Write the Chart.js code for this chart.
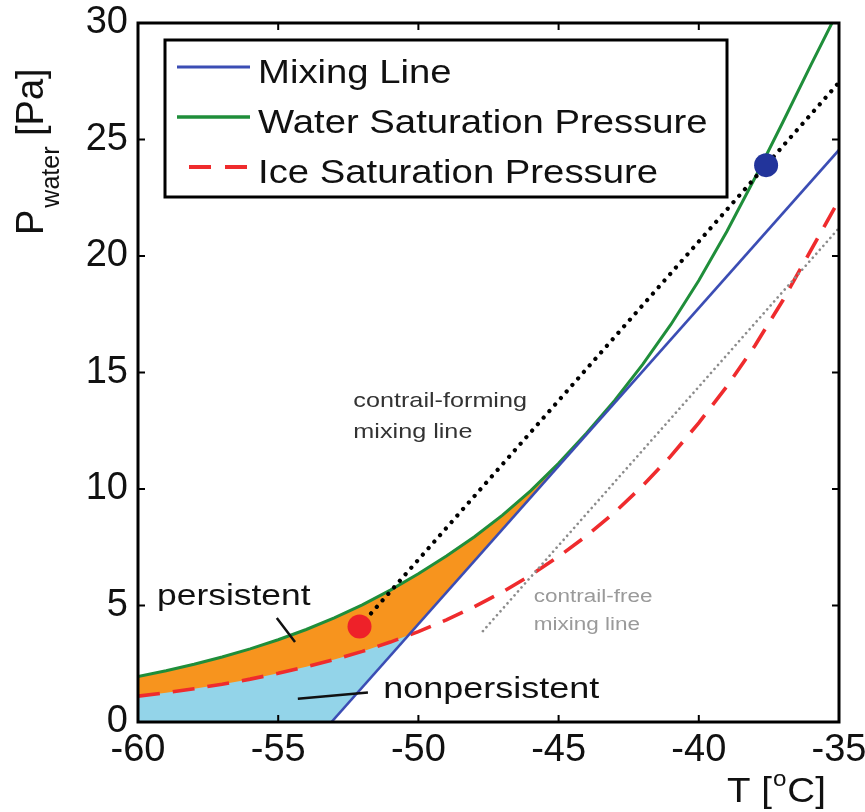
<!DOCTYPE html>
<html>
<head>
<meta charset="utf-8">
<script src="https://cdn.jsdelivr.net/npm/chart.js@4/dist/chart.umd.min.js"></script>
<style>
  body { margin: 0; background: #fff; }
  #wrap { width: 865px; height: 812px; }
</style>
</head>
<body>
<div id="wrap"><canvas id="chart" width="865" height="812"></canvas></div>
<script>
// temperatures (deg C) and saturation pressures (Pa)
const tempC = [-60, -59, -58, -57, -56, -55, -54, -53, -52, -51, -50, -49, -48,
               -47, -46, -45, -44, -43, -42, -41, -40, -39, -38, -37, -36, -35];
const waterP = [1.95, 2.2, 2.48, 2.79, 3.14, 3.53, 3.97, 4.47, 5.03, 5.66, 6.36, 7.12, 7.95,
                8.88, 9.92, 11.1, 12.4, 13.8, 15.35, 17.05, 18.95, 21.05, 23.35, 25.75, 28.2, 30.6];
const iceP = [1.11, 1.26, 1.43, 1.62, 1.84, 2.09, 2.37, 2.68, 3.03, 3.43, 3.88, 4.38, 4.95,
              5.58, 6.3, 7.1, 7.99, 9.0, 10.14, 11.41, 12.84, 14.4, 16.15, 18.1, 20.25, 22.4];

// mixing line; the first point is the zero floor used only as fill edge
const mixT = [-60, -53.1, -35];
const mixP = [0, 0, 24.55];
// contrail-forming / contrail-free mixing lines
const formT = [-52.1, -35];
const formP = [4.1, 27.45];
const freeT = [-47.7, -35];
const freeP = [3.9, 21.2];
// marked states
const redDotT = [-52.1];
const redDotP = [4.1];
const blueDotT = [-37.6];
const blueDotP = [23.9];
// persistent region ends where mixing line touches water curve
const persistEnd = 17;

const xTicks = [-60, -55, -50, -45, -40, -35];
const yTicks = [0, 5, 10, 15, 20, 25, 30];
const seriesNames = ['Mixing Line', 'Water Saturation Pressure', 'Ice Saturation Pressure'];

const FONT = '"Liberation Sans", Arial, Helvetica, sans-serif';
const cBlue = '#3b4db4', cGreen = '#1f8e3a', cRed = '#ef2b2d';

function pts(xs, ys) {
    return xs.map((x, i) => ({ x: x, y: ys[i] }));
}

function txt(ctx, s, x, y, size, sx, color) {
    ctx.save();
    ctx.translate(x, y);
    ctx.scale(sx, 1);
    ctx.font = size + 'px ' + FONT;
    ctx.fillStyle = color;
    ctx.textAlign = 'left';
    ctx.textBaseline = 'alphabetic';
    ctx.fillText(s, 0, 0);
    const w = ctx.measureText(s).width * sx;
    ctx.restore();
    return w;
}

const decor = {
    id: 'decor',
    afterDraw(chart) {
        const ctx = chart.ctx;
        const a = chart.chartArea;
        const xs = chart.scales.x, ys = chart.scales.y;
        const X = v => xs.getPixelForValue(v), Y = v => ys.getPixelForValue(v);

        ctx.save();
        // inward tick marks
        ctx.strokeStyle = '#000';
        ctx.lineWidth = 2;
        ctx.beginPath();
        xTicks.forEach(v => {
            ctx.moveTo(X(v), a.bottom); ctx.lineTo(X(v), a.bottom - 7);
            ctx.moveTo(X(v), a.top); ctx.lineTo(X(v), a.top + 7);
        });
        yTicks.forEach(v => {
            ctx.moveTo(a.left, Y(v)); ctx.lineTo(a.left + 7, Y(v));
            ctx.moveTo(a.right, Y(v)); ctx.lineTo(a.right - 7, Y(v));
        });
        ctx.stroke();
        // frame
        ctx.lineWidth = 3;
        ctx.strokeRect(a.left, a.top, a.right - a.left, a.bottom - a.top);

        // legend box
        const lx = a.left + 27, ly = a.top + 17, lw = 562, lh = 157;
        ctx.fillStyle = '#fff';
        ctx.fillRect(lx, ly, lw, lh);
        ctx.lineWidth = 3;
        ctx.strokeRect(lx, ly, lw, lh);
        const styles = [
            { color: cBlue, width: 3, dash: [] },
            { color: cGreen, width: 3.5, dash: [] },
            { color: cRed, width: 4, dash: [22, 14] }
        ];
        seriesNames.forEach((name, i) => {
            const yy = ly + 27 + i * 50;
            ctx.save();
            ctx.strokeStyle = styles[i].color;
            ctx.lineWidth = styles[i].width;
            ctx.setLineDash(styles[i].dash);
            ctx.beginPath();
            if (styles[i].dash.length) {
                ctx.moveTo(lx + 24, yy); ctx.lineTo(lx + 85, yy);
            } else {
                ctx.moveTo(lx + 12, yy); ctx.lineTo(lx + 85, yy);
            }
            ctx.stroke();
            ctx.restore();
            txt(ctx, name, lx + 93, yy + 16, 33, 1.16, '#111');
        });

        // region labels and pointers
        ctx.strokeStyle = '#111';
        ctx.lineWidth = 2.5;
        ctx.beginPath();
        ctx.moveTo(X(-55.05), Y(4.46)); ctx.lineTo(X(-54.4), Y(3.43));
        ctx.moveTo(X(-54.3), Y(1.0)); ctx.lineTo(X(-51.8), Y(1.27));
        ctx.stroke();
        txt(ctx, 'persistent', X(-59.32), Y(5.02), 29, 1.22, '#111');
        txt(ctx, 'nonpersistent', X(-51.25), Y(1.03), 29, 1.24, '#111');
        txt(ctx, 'contrail-forming', X(-52.32), Y(13.52), 21, 1.2, '#333');
        txt(ctx, 'mixing line', X(-52.32), Y(12.2), 21, 1.2, '#333');
        txt(ctx, 'contrail-free', X(-45.89), Y(5.15), 18, 1.25, '#9a9a9a');
        txt(ctx, 'mixing line', X(-45.89), Y(3.95), 18, 1.25, '#9a9a9a');

        // x axis title  T [°C]
        let px = 727;
        px += txt(ctx, 'T [', px, 802, 35, 1.1, '#111');
        px += txt(ctx, 'o', px + 1, 786, 22, 1.1, '#111') + 2;
        txt(ctx, 'C]', px, 802, 35, 1.1, '#111');

        // y axis title  P_water [Pa]
        ctx.save();
        ctx.translate(43, 235);
        ctx.rotate(-Math.PI / 2);
        ctx.fillStyle = '#111';
        ctx.textBaseline = 'alphabetic';
        ctx.font = '38px ' + FONT;
        ctx.fillText('P', 0, 0);
        let off = ctx.measureText('P').width + 2;
        ctx.font = '25px ' + FONT;
        ctx.fillText('water', off, 16);
        off += ctx.measureText('water').width;
        ctx.font = '38px ' + FONT;
        ctx.fillText(' [Pa]', off, 0);
        ctx.restore();

        ctx.restore();
    }
};

function createChart() {
    const noLine = { pointRadius: 0, pointHoverRadius: 0 };
    const hidden = 'rgba(0,0,0,0)';
    const config = {
        type: 'line',
        data: {
            datasets: [
                { label: 'blue state', data: pts(blueDotT, blueDotP), showLine: false,
                    pointRadius: 12, pointBackgroundColor: '#22349b', pointBorderWidth: 0 },
                { label: 'red state', data: pts(redDotT, redDotP), showLine: false,
                    pointRadius: 12, pointBackgroundColor: '#ee2129', pointBorderWidth: 0 },
                Object.assign({ label: 'contrail-forming mixing line', data: pts(formT, formP),
                    borderColor: '#000', borderWidth: 4.2, borderDash: [0.1, 8.6],
                    borderCapStyle: 'round', fill: false }, noLine),
                Object.assign({ label: 'contrail-free mixing line', data: pts(freeT, freeP),
                    borderColor: '#8c8c8c', borderWidth: 2.6, borderDash: [0.1, 5.2],
                    borderCapStyle: 'round', fill: false }, noLine),
                Object.assign({ label: seriesNames[0], data: pts(mixT.slice(1), mixP.slice(1)),
                    borderColor: cBlue, borderWidth: 2.6, fill: false }, noLine),
                Object.assign({ label: seriesNames[1], data: pts(tempC, waterP),
                    borderColor: cGreen, borderWidth: 3, fill: false }, noLine),
                Object.assign({ label: seriesNames[2], data: pts(tempC, iceP),
                    borderColor: cRed, borderWidth: 3.6, borderDash: [22, 13],
                    fill: { target: 8, above: '#93d4e9', below: hidden } }, noLine),
                Object.assign({ label: 'persistent', data: pts(tempC.slice(0, persistEnd), waterP.slice(0, persistEnd)),
                    borderColor: hidden, borderWidth: 0,
                    fill: { target: 8, above: '#f7941e', below: hidden } }, noLine),
                Object.assign({ label: 'mixing floor', data: pts(mixT, mixP),
                    borderColor: hidden, borderWidth: 0, fill: false }, noLine)
            ]
        },
        options: {
            responsive: false,
            animation: false,
            layout: { padding: { left: 0, top: 23, right: 26, bottom: 0 } },
            plugins: {
                legend: { display: false },
                tooltip: { enabled: false },
                filler: { drawTime: 'beforeDatasetsDraw' }
            },
            scales: {
                x: {
                    type: 'linear', min: -60, max: -35,
                    grid: { display: false, drawTicks: false },
                    border: { display: false },
                    ticks: { color: '#111', font: { family: FONT, size: 38 }, padding: 6, maxRotation: 0 },
                    afterBuildTicks: s => { s.ticks = xTicks.map(v => ({ value: v })); },
                    afterFit: s => { s.height = 90; s.paddingLeft = 0; s.paddingRight = 0; }
                },
                y: {
                    type: 'linear', min: 0, max: 30,
                    grid: { display: false, drawTicks: false },
                    border: { display: false },
                    ticks: { color: '#111', font: { family: FONT, size: 38 }, padding: 10 },
                    afterBuildTicks: s => { s.ticks = yTicks.map(v => ({ value: v })); },
                    afterFit: s => { s.width = 138; s.paddingTop = 0; s.paddingBottom = 0; }
                }
            }
        },
        plugins: [decor]
    };
    new Chart(document.getElementById('chart'), config);
}

document.addEventListener('DOMContentLoaded', () => {
    createChart();
});
</script>
</body>
</html>
